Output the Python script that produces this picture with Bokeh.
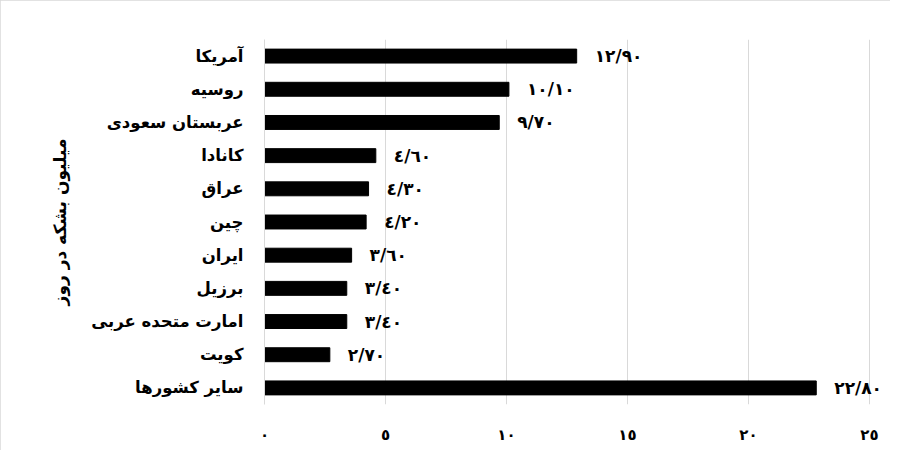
from bokeh.plotting import figure
from bokeh.models import Range1d, FactorRange, FixedTicker, ColumnDataSource, InlineStyleSheet
from bokeh.core.properties import value
from bokeh.embed import file_html
from bokeh.resources import INLINE

countries = ["آمریکا", "روسیه", "عربستان سعودی", "کانادا", "عراق", "چین",
             "ایران", "برزیل", "امارت متحده عربی", "کویت", "سایر کشورها"]
production = [12.90, 10.10, 9.70, 4.60, 4.30, 4.20, 3.60, 3.40, 3.40, 2.70, 22.80]
x_ticks = [0, 5, 10, 15, 20, 25]

DIG = str.maketrans("0123456789", "٠١٢٣٤٥٦٧٨٩")

def ar(s):
    return str(s).translate(DIG)

labels = [ar(f"{v:.2f}".replace(".", "/")) for v in production]

FONT = "DejaVu Sans"

src = ColumnDataSource(dict(c=countries, v=production, lab=labels))

p = figure(width=890, height=450, output_backend="svg", toolbar_location=None,
           x_range=Range1d(0, 620 / 24.2), y_range=FactorRange(factors=countries[::-1]),
           min_border_left=264, min_border_right=6, min_border_top=39, min_border_bottom=46)
p.stylesheets = [InlineStyleSheet(css=":host { outline: 1px solid #d9d9d9; outline-offset: -1px; }")]
p.outline_line_color = None
p.hbar(y="c", right="v", left=0, height=0.42, color="black", source=src)
p.text(x="v", y="c", text="lab", source=src, x_offset=18, text_align="left",
       text_baseline="middle", text_font=value(FONT), text_font_style="bold",
       text_font_size="17px", text_color="black")

p.ygrid.grid_line_color = None
p.xgrid.grid_line_color = "#d9d9d9"
p.xaxis.ticker = FixedTicker(ticks=x_ticks)
p.xaxis.major_label_overrides = {t: ar(t) for t in x_ticks}
p.xaxis.axis_line_color = None
p.xaxis.major_tick_line_color = None
p.xaxis.minor_tick_line_color = None
p.xaxis.major_label_standoff = 15
p.xaxis.major_label_text_font = FONT
p.xaxis.major_label_text_font_style = "bold"
p.xaxis.major_label_text_font_size = "15px"
p.xaxis.major_label_text_color = "black"

p.yaxis.axis_line_color = "#d9d9d9"
p.yaxis.major_tick_line_color = None
p.yaxis.minor_tick_line_color = None
p.yaxis.major_label_standoff = 15
p.yaxis.major_label_text_font = FONT
p.yaxis.major_label_text_font_style = "bold"
p.yaxis.major_label_text_font_size = "16.5px"
p.yaxis.major_label_text_color = "black"
p.yaxis.axis_label = "میلیون بشکه در روز"
p.yaxis.axis_label_text_font = FONT
p.yaxis.axis_label_text_font_style = "bold"
p.yaxis.axis_label_text_font_size = "17px"
p.yaxis.axis_label_text_color = "black"
p.yaxis.axis_label_standoff = 18

open("out.html", "w").write(file_html(p, INLINE))
